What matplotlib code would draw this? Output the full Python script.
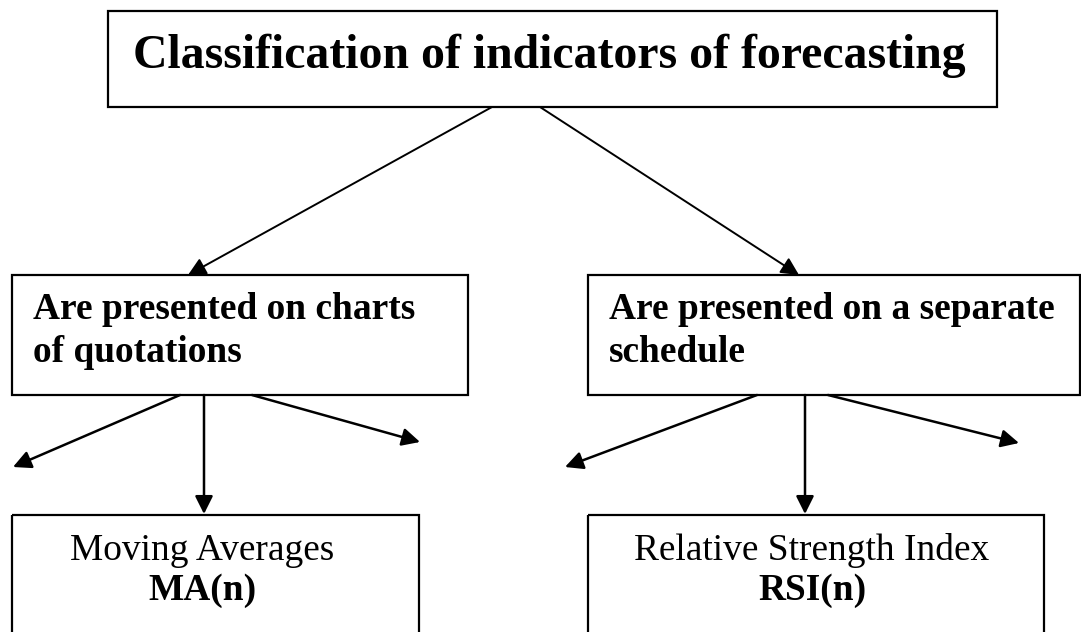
import matplotlib.pyplot as plt
from matplotlib.patches import Rectangle

W, H = 1081, 632

# texts of the diagram
title = "Classification of indicators of forecasting"
groups = ["Are presented on charts\nof quotations",
          "Are presented on a separate\nschedule"]
indicator_names = ["Moving Averages", "Relative Strength Index"]
indicator_codes = ["MA(n)", "RSI(n)"]

# layout in pixels (x0, y0, x1, y1), y measured from the top
title_box = (108, 11, 997, 107)
group_boxes = [(12, 275, 468, 395), (588, 275, 1080, 395)]
bottom_boxes = [(12, 515, 419, 640), (588, 515, 1044, 640)]

# arrows: (start, end)
top_arrows = [((492, 107), (188, 275)), ((540, 107), (799, 275))]
sub_arrows = [
    [((180, 395), (13, 467)), ((204, 395), (204, 514)), ((252, 395), (420, 442))],
    [((757, 395), (565, 467)), ((805, 395), (805, 514)), ((828, 395), (1019, 443))],
]

fig = plt.figure(figsize=(W / 100, H / 100), dpi=100)
ax = fig.add_axes([0, 0, 1, 1])
ax.set_xlim(0, W)
ax.set_ylim(H, 0)
ax.axis("off")

serif = "Liberation Serif"
lw = 1.6


def box(b):
    x0, y0, x1, y1 = b
    ax.add_patch(Rectangle((x0, y0), x1 - x0, y1 - y0, fill=False,
                           edgecolor="black", linewidth=lw, zorder=2))


def arrow(p, q, width=1.5):
    ax.annotate("", xy=q, xytext=p,
                arrowprops=dict(arrowstyle="-|>", color="black", lw=width,
                                mutation_scale=27, shrinkA=0, shrinkB=0),
                zorder=3)


box(title_box)
ax.text(549, 68, title, family=serif, fontweight="bold", fontsize=34.4,
        ha="center", va="baseline")

for b, txt, x_txt in zip(group_boxes, groups, [33, 609]):
    box(b)
    line1, line2 = txt.split("\n")
    ax.text(x_txt, 319, line1, family=serif, fontweight="bold", fontsize=26.9,
            ha="left", va="baseline")
    ax.text(x_txt, 362, line2, family=serif, fontweight="bold", fontsize=26.9,
            ha="left", va="baseline")

for b, name, code, xc in zip(bottom_boxes, indicator_names, indicator_codes, [202, 812]):
    box(b)
    ax.text(xc, 560, name, family=serif, fontsize=26.9, ha="center", va="baseline")
    ax.text(xc, 600, code, family=serif, fontweight="bold", fontsize=26.9,
            ha="center", va="baseline")

for p, q in top_arrows:
    arrow(p, q, 1.4)
for group in sub_arrows:
    for p, q in group:
        arrow(p, q, 1.8)

fig.savefig("out.png", dpi=100, facecolor="white")
